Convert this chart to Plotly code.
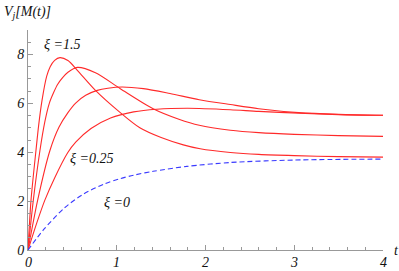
import plotly.graph_objects as go

# ---- data ----
t_xi15 = [0, 0.034, 0.09, 0.12, 0.158, 0.21, 0.25, 0.3, 0.36, 0.45, 0.556, 0.76, 1.03, 1.26, 1.5, 1.75, 1.94, 2.28, 2.6, 3.0, 3.5, 4.0]
v_xi15 = [0, 2.04, 4.08, 5.1, 6.12, 7.1, 7.5, 7.76, 7.87, 7.75, 7.35, 6.53, 5.65, 5.0, 4.6, 4.3, 4.14, 3.99, 3.91, 3.86, 3.82, 3.8]

t_xi1 = [0, 0.06, 0.135, 0.19, 0.24, 0.29, 0.335, 0.39, 0.45, 0.556, 0.76, 1.04, 1.41, 1.7, 1.93, 2.28, 2.6, 3.0, 3.5, 4.0]
v_xi1 = [0, 2.04, 4.08, 5.25, 6.0, 6.45, 6.78, 7.05, 7.27, 7.47, 7.25, 6.6, 5.78, 5.35, 5.1, 4.9, 4.8, 4.73, 4.68, 4.65]

t_xi05 = [0, 0.109, 0.248, 0.35, 0.45, 0.54, 0.65, 0.78, 0.9, 1.06, 1.3, 1.6, 1.93, 2.28, 2.6, 3.05, 3.5, 4.0]
v_xi05 = [0, 2.04, 4.08, 5.03, 5.62, 6.02, 6.33, 6.53, 6.62, 6.67, 6.6, 6.4, 6.15, 5.95, 5.78, 5.62, 5.55, 5.51]

t_xi025 = [0, 0.1, 0.19, 0.3, 0.447, 0.54, 0.71, 0.93, 1.19, 1.45, 1.8, 2.28, 2.6, 3.05, 3.5, 4.0]
v_xi025 = [0, 1.12, 2.04, 2.95, 3.98, 4.42, 4.97, 5.4, 5.65, 5.76, 5.8, 5.74, 5.67, 5.6, 5.54, 5.51]

t_xi0 = [0, 0.18, 0.41, 0.63, 0.86, 1.04, 1.19, 1.41, 1.79, 2.28, 3.0, 4.0]
v_xi0 = [0, 0.85, 1.72, 2.3, 2.7, 2.92, 3.06, 3.22, 3.42, 3.58, 3.68, 3.72]

x_ticks = [0, 1, 2, 3, 4]
y_ticks = [0, 2, 4, 6, 8]

labels = ["ξ =1.5", "ξ =0.25", "ξ =0"]
label_t = [0.38, 0.72, 1.0]
label_v = [8.4, 3.75, 1.95]

RED = "#ff2a2a"
BLUE = "#3a3aff"
SERIF = "Liberation Serif"

L, R, T, B = 28, 16, 30, 21
W, H = 399, 271
PW, PH = W - L - R, H - T - B


def px_to_paper(px, py):
    return (px - L) / PW, (H - B - py) / PH


TXT = dict(family=SERIF, size=14, color="#111", style="italic")

fig = go.Figure()
for tt, vv in [(t_xi15, v_xi15), (t_xi1, v_xi1), (t_xi05, v_xi05), (t_xi025, v_xi025)]:
    fig.add_trace(go.Scatter(x=tt, y=vv, mode="lines", line=dict(color=RED, width=1.1, shape="spline", smoothing=0.8),
                             showlegend=False, hoverinfo="skip"))
fig.add_trace(go.Scatter(x=t_xi0, y=v_xi0, mode="lines",
                         line=dict(color=BLUE, width=1.1, dash="5px,3px", shape="spline", smoothing=0.8),
                         showlegend=False, hoverinfo="skip"))

for txt, tx, vy in zip(labels, label_t, label_v):
    fig.add_annotation(x=tx, y=vy, xref="x", yref="y", text=txt, showarrow=False, font=TXT)

# x tick labels (placed just below the axis, as in the reference)
_, ylab = px_to_paper(0, 262)
for v in x_ticks:
    fig.add_annotation(x=v, y=ylab, xref="x", yref="paper", text=str(v), showarrow=False,
                       xanchor="center", yanchor="middle", font=TXT)

vx, vy_ = px_to_paper(2, 13)
fig.add_annotation(x=vx, y=vy_, xref="paper", yref="paper", xanchor="left", yanchor="middle",
                   text="V<sub>j</sub>[M(t)]", showarrow=False, font=TXT)
tx_, ty_ = px_to_paper(396, 250)
fig.add_annotation(x=tx_, y=ty_, xref="paper", yref="paper", xanchor="center", yanchor="middle",
                   text="t", showarrow=False, font=TXT)

axis_common = dict(showgrid=False, zeroline=False, showline=True, linecolor="#999999", linewidth=1,
                   ticks="inside", tickcolor="#999999", ticklen=5, tickwidth=1, automargin=False,
                   tickfont=TXT)
fig.update_xaxes(range=[0, 4], tickvals=x_ticks, showticklabels=False,
                 minor=dict(dtick=0.2, tick0=0, ticks="inside", ticklen=3, tickcolor="#999999"),
                 **axis_common)
fig.update_yaxes(range=[0, 9], tickvals=y_ticks, ticktext=[str(v) for v in y_ticks],
                 minor=dict(dtick=0.5, tick0=0, ticks="inside", ticklen=3, tickcolor="#999999"),
                 **axis_common)

fig.update_layout(width=W, height=H, margin=dict(l=L, r=R, t=T, b=B),
                  plot_bgcolor="white", paper_bgcolor="white")
fig.write_html("out.html", config={"displayModeBar": False},
               post_script="document.body.style.margin='0';document.body.style.overflow='hidden';")
